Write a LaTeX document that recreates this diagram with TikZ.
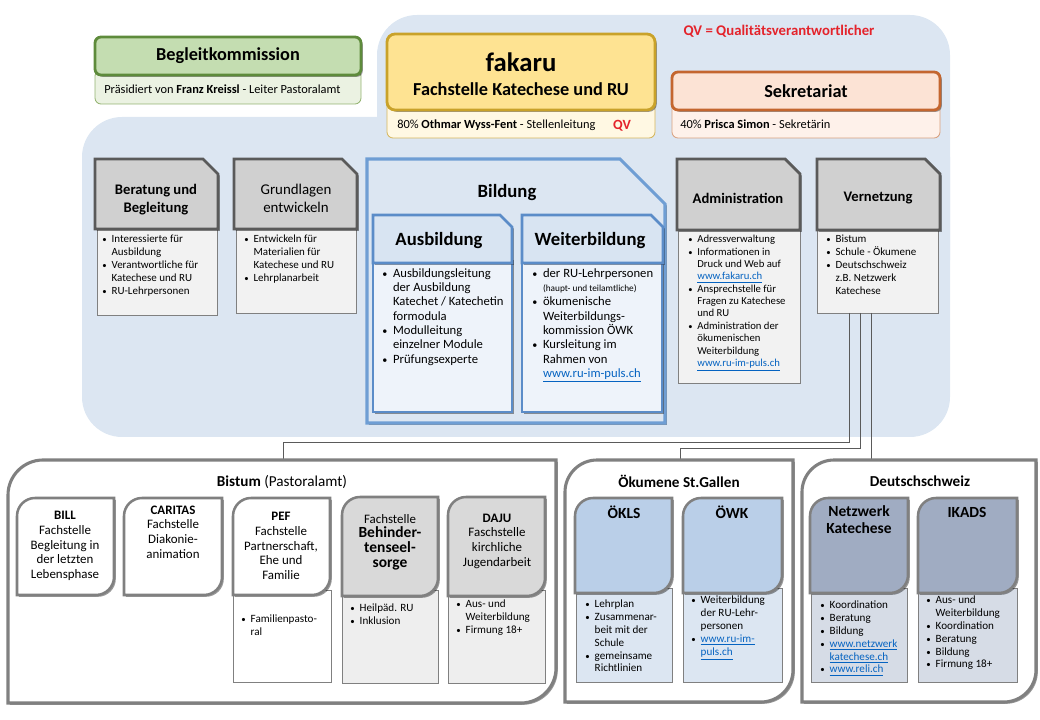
\documentclass[tikz,border=0pt]{standalone}
\usepackage{fontspec}
\setmainfont{Carlito}
\usetikzlibrary{shadows}

\definecolor{hgblau}{HTML}{DCE6F2}
\definecolor{gruenkopf}{HTML}{C4DDB1}
\definecolor{gruenrand}{HTML}{5E8B3B}
\definecolor{gruenunter}{HTML}{EBF2E2}
\definecolor{gruenunterrand}{HTML}{93B370}
\definecolor{gelbkopf}{HTML}{FEE392}
\definecolor{gelbrand}{HTML}{C9A22A}
\definecolor{gelbunter}{HTML}{FFF8E3}
\definecolor{gelbunterrand}{HTML}{D6B65C}
\definecolor{orangekopf}{HTML}{FCE3D5}
\definecolor{orangerand}{HTML}{C4662F}
\definecolor{orangeunter}{HTML}{FEF1EA}
\definecolor{orangeunterrand}{HTML}{D9A07E}
\definecolor{graukopf}{HTML}{D0D0D0}
\definecolor{graurand}{HTML}{5A5A5A}
\definecolor{grauunter}{HTML}{F2F2F2}
\definecolor{grauunterrand}{HTML}{808080}
\definecolor{bildrand}{HTML}{6F9ED4}
\definecolor{bildkopf}{HTML}{D8E4F2}
\definecolor{bildkopfrand}{HTML}{5B8CC8}
\definecolor{bildunter}{HTML}{EEF3FA}
\definecolor{bistumkopf}{HTML}{D9D9D9}
\definecolor{bistumunter}{HTML}{EEEEEE}
\definecolor{oekkopf}{HTML}{BACFE8}
\definecolor{oekunter}{HTML}{DCE6F2}
\definecolor{dskopf}{HTML}{A0ACC2}
\definecolor{dsunter}{HTML}{D6DCE6}
\definecolor{qvrot}{HTML}{E4232B}
\definecolor{linkblau}{HTML}{0563C1}

% Umrisse: Ecke oben rechts abgeschnitten / Ecken oben links und unten rechts rund
\newcommand{\fase}[5]{(#1,#4) -- (#1,#2) -- ({#3-#5},#2) -- (#3,{#2+#5}) -- (#3,#4) -- cycle}
\newcommand{\ecken}[5]{(#1,#4) -- (#1,{#2+#5}) .. controls (#1,{#2+0.45*#5}) and ({#1+0.45*#5},#2) .. ({#1+#5},#2) -- (#3,#2) -- (#3,{#4-#5}) .. controls (#3,{#4-0.45*#5}) and ({#3-0.45*#5},#4) .. ({#3-#5},#4) -- cycle}
\newcommand{\pkt}{\makebox[0.85em][l]{\scalebox{0.8}{\textbullet}}}
\newcommand{\ein}{\hspace*{0.85em}}
\newcommand{\netz}[1]{\textcolor{linkblau}{\underline{#1}}}

\tikzset{
	schatten/.style={drop shadow={shadow xshift=1.3pt, shadow yshift=-1.3pt, opacity=0.4, fill=black}},
	titel/.style={font=\fontsize{13}{15}\selectfont\bfseries},
	klein/.style={font=\fontsize{8.8}{10}\selectfont, anchor=west, inner sep=0pt},
	kopf/.style={font=\fontsize{10.4}{12.8}\selectfont\bfseries, align=center},
	liste/.style={font=\fontsize{7.8}{9.2}\selectfont, align=left, anchor=north west, inner sep=0pt},
	bliste/.style={liste, font=\fontsize{9}{10.2}\selectfont},
	aliste/.style={liste, font=\fontsize{7.6}{8.8}\selectfont},
	uliste/.style={liste, font=\fontsize{7.9}{9.1}\selectfont},
	ukopf/.style={font=\fontsize{9.2}{10.4}\selectfont, align=center},
	ufett/.style={font=\fontsize{11}{12.2}\selectfont\bfseries, align=center},
	utitel/.style={font=\fontsize{10.8}{13}\selectfont},
	kopfgrau/.style={fill=graukopf, draw=graurand, line width=2pt, schatten},
	unter/.style={fill=grauunter, draw=grauunterrand, line width=0.6pt},
	ukasten/.style={draw=grauunterrand, line width=1.8pt, schatten},
	aussen/.style={fill=white, draw=grauunterrand, line width=2.2pt, schatten},
	verbindung/.style={draw=graurand, line width=0.7pt}
}

\begin{document}
\begin{tikzpicture}[x=0.025cm, y=-0.025cm]
	\useasboundingbox (0,0) rectangle (1040,720);
	
	%%% Hintergrund
	\fill[hgblau, rounded corners=1cm] (377,15) rectangle (950,300);
	\fill[hgblau, rounded corners=1cm] (82,117) rectangle (950,437);
	
	%%% Leitung
	
	% Begleitkommission
	\filldraw[fill=gruenunter, draw=gruenunterrand, line width=0.6pt, rounded corners=0.15cm] (95,70) rectangle (361,104);
	\filldraw[fill=gruenkopf, draw=gruenrand, line width=2pt, rounded corners=0.15cm, schatten] (95,37) rectangle (361,75);
	\node[titel] (begleit) at (228,56) {Begleitkommission};
	\node[klein] (praesid) at (104,89) {Präsidiert von \textbf{Franz Kreissl} - Leiter Pastoralamt};
	
	% fakaru
	\filldraw[fill=gelbunter, draw=gelbunterrand, line width=0.6pt, rounded corners=0.15cm] (387,100) rectangle (655,138);
	\filldraw[fill=gelbkopf, draw=gelbrand, line width=2pt, rounded corners=0.2cm, schatten] (387,34) rectangle (655,110);
	\node[font=\fontsize{19}{21}\selectfont\bfseries] (fakaru) at (521,62) {fakaru};
	\node[font=\fontsize{13}{15}\selectfont\bfseries] (fachstelle) at (521,89) {Fachstelle Katechese und RU};
	\node[klein] (leitung) at (397,125) {80\% \textbf{Othmar Wyss-Fent} - Stellenleitung};
	\node[font=\fontsize{10}{12}\selectfont\bfseries, text=qvrot] (qv) at (622,126) {QV};
	
	% Sekretariat
	\filldraw[fill=orangeunter, draw=orangeunterrand, line width=0.6pt, rounded corners=0.15cm] (672,100) rectangle (940,138);
	\filldraw[fill=orangekopf, draw=orangerand, line width=2pt, rounded corners=0.15cm, schatten] (672,72) rectangle (940,110);
	\node[titel] (sekretariat) at (806,91) {Sekretariat};
	\node[klein] (sekr) at (680,124) {40\% \textbf{Prisca Simon} - Sekretärin};
	
	\node[font=\fontsize{10.5}{12}\selectfont\bfseries, text=qvrot] (qvlegende) at (779,31) {QV = Qualitätsverantwortlicher};
	
	%%% Aufgaben
	
	% Beratung
	\filldraw[unter] (97,225) rectangle (217,315);
	\filldraw[kopfgrau] \fase{95}{159}{218}{229}{15};
	\node[kopf] (beratung) at (156,200) {Beratung und\\Begleitung};
	\node[liste] (beratungL) at (102,235) {\pkt Interessierte für\\\ein Ausbildung\\\pkt Verantwortliche für\\\ein Katechese und RU\\\pkt RU-Lehrpersonen};
	
	% Grundlagen
	\filldraw[unter] (236,225) rectangle (356,313);
	\filldraw[kopfgrau] \fase{234}{159}{357}{229}{15};
	\node[kopf, font=\fontsize{10.6}{12.8}\selectfont] (grundlagen) at (296,198) {Grundlagen\\entwickeln};
	\node[liste] (grundlagenL) at (244,235) {\pkt Entwickeln für\\\ein Materialien für\\\ein Katechese und RU\\\pkt Lehrplanarbeit};
	
	% Bildung
	\filldraw[fill=hgblau, draw=bildrand, line width=2.2pt, schatten] \fase{367}{159}{665}{423}{45};
	\node[titel, font=\fontsize{13.3}{15}\selectfont\bfseries] (bildung) at (507,193) {Bildung};
	
	\filldraw[fill=bildunter, draw=bildkopfrand, line width=1.2pt, schatten] (373,258) rectangle (512,412);
	\filldraw[fill=bildkopf, draw=bildkopfrand, line width=1.8pt, schatten] \fase{373}{215}{512}{263}{12};
	\node[titel, font=\fontsize{13.3}{15}\selectfont\bfseries] (ausbildung) at (439,241) {Ausbildung};
	\node[bliste] (ausbildungL) at (382,268) {\pkt Ausbildungsleitung\\\ein der Ausbildung\\\ein Katechet / Katechetin\\\ein formodula\\\pkt Modulleitung\\\ein einzelner Module\\\pkt Prüfungsexperte};
	
	\filldraw[fill=bildunter, draw=bildkopfrand, line width=1.2pt, schatten] (522,258) rectangle (662,412);
	\filldraw[fill=bildkopf, draw=bildkopfrand, line width=1.8pt, schatten] \fase{522}{215}{663}{263}{12};
	\node[titel, font=\fontsize{13.3}{15}\selectfont\bfseries] (weiterbildung) at (590,241) {Weiterbildung};
	\node[bliste] (weiterbildungL) at (532,268) {\pkt der RU-Lehrpersonen\\\ein{\fontsize{6.6}{8}\selectfont(haupt- und teilamtliche)}\\\pkt ökumenische\\\ein Weiterbildungs-\\\ein kommission ÖWK\\\pkt Kursleitung im\\\ein Rahmen von\\\ein\netz{www.ru-im-puls.ch}};
	
	% Administration
	\filldraw[unter] (678,225) rectangle (800,383);
	\filldraw[kopfgrau] \fase{677}{159}{800}{230}{15};
	\node[kopf] (administration) at (738,198) {Administration};
	\node[aliste] (administrationL) at (688,235) {\pkt Adressverwaltung\\\pkt Informationen in\\\ein Druck und Web auf\\\ein\netz{www.fakaru.ch}\\\pkt Ansprechstelle für\\\ein Fragen zu Katechese\\\ein und RU\\\pkt Administration der\\\ein ökumenischen\\\ein Weiterbildung\\\ein\netz{www.ru-im-puls.ch}};
	
	% Vernetzung
	\filldraw[unter] (817,225) rectangle (938,313);
	\filldraw[kopfgrau] \fase{817}{159}{940}{230}{15};
	\node[kopf] (vernetzung) at (878,198) {Vernetzung};
	\node[liste] (vernetzungL) at (826,235) {\pkt Bistum\\\pkt Schule - Ökumene\\\pkt Deutschschweiz\\\ein z.B. Netzwerk\\\ein Katechese};
	
	%%% Verbindungen
	\coordinate (vern1) at (849,313);
	\coordinate (vern2) at (860,313);
	\coordinate (vern3) at (871,313);
	\coordinate (bistumO) at (283,460);
	\coordinate (oekO) at (680,460);
	\coordinate (dsO) at (871,460);
	
	\draw[verbindung] (vern1) -- ++(0,129) -| (bistumO);
	\draw[verbindung] (vern2) -- ++(0,135) -| (oekO);
	\draw[verbindung] (vern3) -- (dsO);
	
	%%% Partner
	
	% Bistum
	\filldraw[aussen] \ecken{8}{460}{556}{703}{35};
	\node[utitel] (bistum) at (282,482) {\textbf{Bistum} (Pastoralamt)};
	
	\filldraw[ukasten, fill=white] \ecken{17}{498}{114}{595}{18};
	\node[ukopf] (bill) at (65,546) {\textbf{BILL}\\Fachstelle\\Begleitung in\\der letzten\\Lebensphase};
	
	\filldraw[ukasten, fill=white] \ecken{124}{498}{222}{595}{18};
	\node[ukopf] (caritas) at (173,532) {\textbf{CARITAS}\\Fachstelle\\Diakonie-\\animation};
	
	\filldraw[fill=white, draw=grauunterrand, line width=0.6pt] (233,590) rectangle (331,682);
	\filldraw[ukasten, fill=white] \ecken{233}{498}{330}{595}{18};
	\node[ukopf] (pef) at (281,546) {\textbf{PEF}\\Fachstelle\\Partnerschaft,\\Ehe und\\Familie};
	\node[uliste] (pefL) at (241,615) {\pkt Familienpasto-\\\ein ral};
	
	\filldraw[fill=bistumunter, draw=grauunterrand, line width=0.6pt] (342,590) rectangle (438,683);
	\filldraw[ukasten, fill=bistumkopf] \ecken{342}{497}{438}{596}{18};
	\node[ukopf] (behinderten) at (390,542) {Fachstelle\\{\fontsize{11}{12.2}\selectfont\bfseries Behinder-}\\{\fontsize{11}{12.2}\selectfont\bfseries tenseel-}\\{\fontsize{11}{12.2}\selectfont\bfseries sorge}};
	\node[uliste] (behindertenL) at (350,604) {\pkt Heilpäd. RU\\\pkt Inklusion};
	
	\filldraw[fill=bistumunter, draw=grauunterrand, line width=0.6pt] (448,590) rectangle (545,683);
	\filldraw[ukasten, fill=bistumkopf] \ecken{448}{497}{545}{596}{18};
	\node[ukopf] (daju) at (497,541) {\textbf{DAJU}\\Faschstelle\\kirchliche\\Jugendarbeit};
	\node[uliste] (dajuL) at (456,600) {\pkt Aus- und\\\ein Weiterbildung\\\pkt Firmung 18+};
	
	% Ökumene
	\filldraw[aussen] \ecken{565}{460}{793}{702}{32};
	\node[utitel, font=\fontsize{10.8}{13}\selectfont\bfseries] (oekumene) at (679,481) {Ökumene St.Gallen};
	
	\filldraw[fill=oekunter, draw=grauunterrand, line width=0.6pt] (576,588) rectangle (672,682);
	\filldraw[ukasten, fill=oekkopf] \ecken{575}{498}{672}{593}{18};
	\node[ufett] (oekls) at (624,512) {ÖKLS};
	\node[uliste] (oeklsL) at (585,600) {\pkt Lehrplan\\\pkt Zusammenar-\\\ein beit mit der\\\ein Schule\\\pkt gemeinsame\\\ein Richtlinien};
	
	\filldraw[fill=oekunter, draw=grauunterrand, line width=0.6pt] (683,588) rectangle (782,682);
	\filldraw[ukasten, fill=oekkopf] \ecken{683}{498}{782}{593}{18};
	\node[ufett] (oewk) at (732,512) {ÖWK};
	\node[uliste] (oewkL) at (691,596) {\pkt Weiterbildung\\\ein der RU-Lehr-\\\ein personen\\\pkt\netz{www.ru-im-}\\\ein\netz{puls.ch}};
	
	% Deutschschweiz
	\filldraw[aussen] \ecken{802}{460}{1036}{702}{32};
	\node[utitel, font=\fontsize{10.8}{13}\selectfont\bfseries] (dschweiz) at (920,481) {Deutschschweiz};
	
	\filldraw[fill=dsunter, draw=grauunterrand, line width=0.6pt] (811,588) rectangle (907,682);
	\filldraw[ukasten, fill=dskopf] \ecken{810}{498}{908}{593}{18};
	\node[ufett] (netzwerk) at (859,520) {Netzwerk\\Katechese};
	\node[uliste] (netzwerkL) at (820,601) {\pkt Koordination\\\pkt Beratung\\\pkt Bildung\\\pkt\netz{www.netzwerk}\\\ein\netz{katechese.ch}\\\pkt\netz{www.reli.ch}};
	
	\filldraw[fill=dsunter, draw=grauunterrand, line width=0.6pt] (918,588) rectangle (1017,682);
	\filldraw[ukasten, fill=dskopf] \ecken{918}{498}{1017}{593}{18};
	\node[ufett] (ikads) at (967,512) {IKADS};
	\node[uliste] (ikadsL) at (926,596) {\pkt Aus- und\\\ein Weiterbildung\\\pkt Koordination\\\pkt Beratung\\\pkt Bildung\\\pkt Firmung 18+};
\end{tikzpicture}
\end{document}
